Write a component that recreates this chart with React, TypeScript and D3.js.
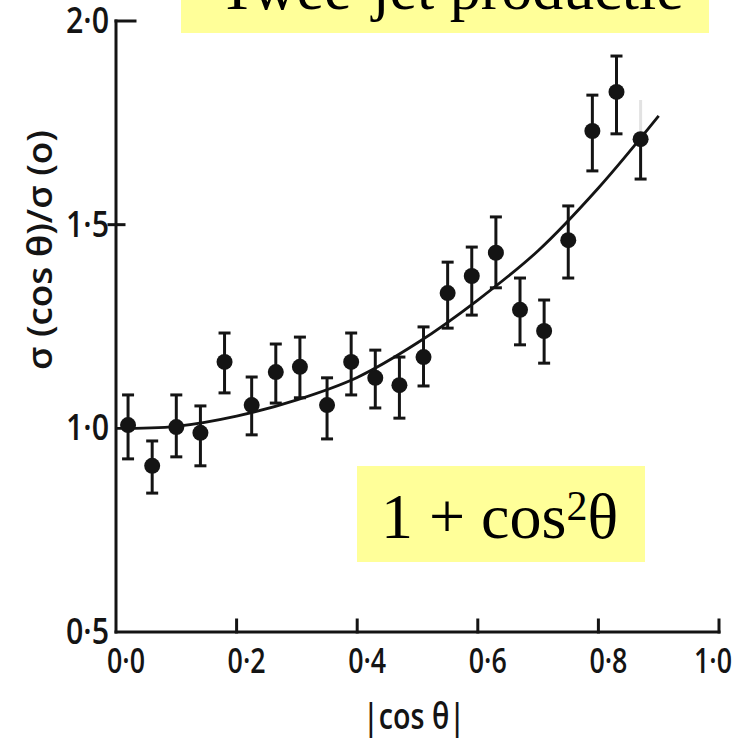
import React from "react";
import * as d3 from "d3";

// |cos θ| bin centres
const cosTheta = [0.02, 0.06, 0.10, 0.14, 0.18, 0.225, 0.265, 0.305, 0.35, 0.39, 0.43, 0.47, 0.51, 0.55, 0.59, 0.63, 0.67, 0.71, 0.75, 0.79, 0.83, 0.87];
// σ(cos θ)/σ(0)
const ratio = [1.008, 0.908, 1.003, 0.989, 1.163, 1.057, 1.138, 1.151, 1.057, 1.163, 1.124, 1.106, 1.175, 1.332, 1.374, 1.431, 1.291, 1.239, 1.462, 1.730, 1.826, 1.710];
const errHigh = [1.082, 0.969, 1.082, 1.055, 1.234, 1.126, 1.207, 1.224, 1.124, 1.234, 1.192, 1.175, 1.249, 1.408, 1.445, 1.519, 1.369, 1.315, 1.546, 1.818, 1.914, 1.806];
const errLow = [0.925, 0.841, 0.930, 0.908, 1.087, 0.984, 1.062, 1.075, 0.974, 1.082, 1.050, 1.025, 1.104, 1.246, 1.278, 1.345, 1.205, 1.160, 1.369, 1.632, 1.723, 1.612];

// fitted 1 + cos²θ curve
const curveX = [0.0, 0.1, 0.2, 0.3, 0.4, 0.5, 0.6, 0.7, 0.8, 0.9];
const curveY = [1.0, 1.005, 1.03, 1.07, 1.125, 1.21, 1.315, 1.436, 1.59, 1.767];

const xTicks = [0.0, 0.2, 0.4, 0.6, 0.8, 1.0];
const xTickLabels = ["0·0", "0·2", "0·4", "0·6", "0·8", "1·0"];
const yTicks = [0.5, 1.0, 1.5, 2.0];
const yTickLabels = ["0·5", "1·0", "1·5", "2·0"];

const titleText = "Twee-jet productie";
const xTitle = "|cos θ|";
const yTitle = "σ (cos θ)/σ (o)";

const INK = "#141414";
const YELLOW = "#ffff99";
const SANS = "'Open Sans', 'DejaVu Sans', sans-serif";
const SERIF = "'Liberation Serif', 'Times New Roman', serif";
const SW = 3;

export default function App() {
  const x = d3.scaleLinear().domain([0, 1]).range([116, 719]);
  const y = d3.scaleLinear().domain([0.5, 2.0]).range([632, 21]);

  const line = d3
    .line<number>()
    .x((_, i) => x(curveX[i]))
    .y((d) => y(d))
    .curve(d3.curveCatmullRom.alpha(0.5));

  const x0 = x(0);
  const yBottom = y(0.5);
  const yTop = y(2.0);

  return (
    <svg
      width={737}
      height={740}
      viewBox="0 0 737 740"
      style={{ position: "absolute", left: 0, top: 0, background: "#fff" }}
    >
      {/* axes */}
      <g stroke={INK} strokeWidth={SW} fill="none" strokeLinecap="square">
        <line x1={x0} y1={yTop} x2={x0} y2={yBottom} />
        <line x1={x0} y1={yBottom} x2={x(1)} y2={yBottom} />
        <line x1={x0} y1={yTop} x2={x0 + 19} y2={yTop} />
        <line x1={x0 - 7} y1={y(1.5)} x2={x0 + 8} y2={y(1.5)} />
        {xTicks.slice(1).map((t) => (
          <line key={t} x1={x(t)} y1={yBottom} x2={x(t)} y2={yBottom - 12} />
        ))}
      </g>

      {/* y tick labels */}
      {yTicks.map((t, i) => (
        <text
          key={t}
          x={x0 - 50}
          y={y(t) + 12}
          fontFamily={SANS}
          fontWeight={600}
          fontSize={36}
          textLength={43}
          lengthAdjust="spacingAndGlyphs"
          fill={INK}
        >
          {yTickLabels[i]}
        </text>
      ))}

      {/* x tick labels */}
      {xTicks.map((t, i) => (
        <text
          key={t}
          x={Math.min(x(t) + 10, 713) - 19}
          y={673}
          fontFamily={SANS}
          fontWeight={600}
          fontSize={35}
          textLength={38}
          lengthAdjust="spacingAndGlyphs"
          fill={INK}
        >
          {xTickLabels[i]}
        </text>
      ))}

      {/* axis titles */}
      <text
        x={363}
        y={729}
        fontFamily={SANS}
        fontWeight={600}
        fontSize={36}
        textLength={102}
        lengthAdjust="spacingAndGlyphs"
        fill={INK}
      >
        {xTitle}
      </text>
      <text
        transform="translate(52,250) rotate(-90)"
        x={-120}
        y={0}
        fontFamily={SANS}
        fontWeight={600}
        fontSize={34}
        fill={INK}
        textLength={240}
        lengthAdjust="spacingAndGlyphs"
      >
        {yTitle}
      </text>

      {/* fit curve */}
      <path d={line(curveY) || ""} fill="none" stroke={INK} strokeWidth={2.8} />

      {/* error bars and points */}
      {cosTheta.map((c, i) => {
        const cx = x(c);
        const faintTop = i === cosTheta.length - 1;
        return (
          <g key={i}>
            <line
              x1={cx}
              y1={y(errHigh[i])}
              x2={cx}
              y2={y(ratio[i])}
              stroke={faintTop ? "#e2e2e2" : INK}
              strokeWidth={SW}
            />
            <line x1={cx} y1={y(ratio[i])} x2={cx} y2={y(errLow[i])} stroke={INK} strokeWidth={SW} />
            {!faintTop && (
              <line x1={cx - 6} y1={y(errHigh[i])} x2={cx + 6} y2={y(errHigh[i])} stroke={INK} strokeWidth={SW} />
            )}
            <line x1={cx - 6} y1={y(errLow[i])} x2={cx + 6} y2={y(errLow[i])} stroke={INK} strokeWidth={SW} />
            <circle cx={cx} cy={y(ratio[i])} r={8} fill={INK} />
          </g>
        );
      })}

      {/* title box (clipped at the top) */}
      <rect x={181} y={-10} width={528} height={43} fill={YELLOW} />
      <text
        x={451}
        y={9}
        textAnchor="middle"
        fontFamily={SERIF}
        fontSize={62}
        fill="#000"
      >
        {titleText}
      </text>

      {/* formula box */}
      <rect x={357} y={466} width={288} height={96} fill={YELLOW} />
      <text x={381} y={538} fontFamily={SERIF} fontSize={64} fill="#000">
        <tspan>1 + cos</tspan>
        <tspan fontSize={42} dy={-18}>2</tspan>
        <tspan dy={18}>θ</tspan>
      </text>
    </svg>
  );
}
